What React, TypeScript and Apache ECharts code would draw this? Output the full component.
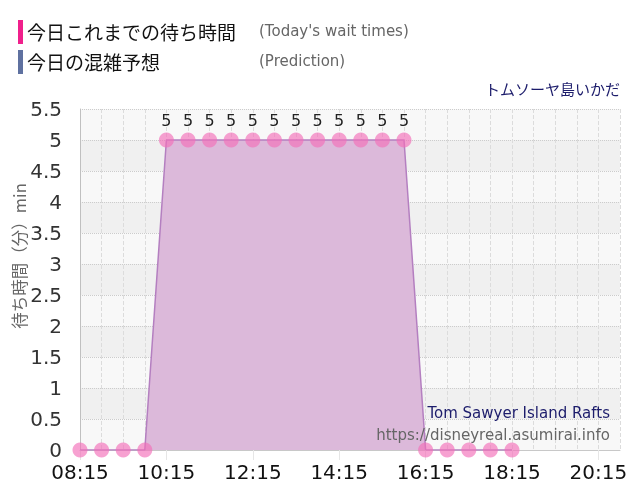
import React, { useEffect, useRef } from "react";
import * as echarts from "echarts";

const times = [
  "08:15", "08:45", "09:15", "09:45", "10:15", "10:45", "11:15", "11:45",
  "12:15", "12:45", "13:15", "13:45", "14:15", "14:45", "15:15", "15:45",
  "16:15", "16:45", "17:15", "17:45", "18:15", "18:45", "19:15", "19:45",
  "20:15", "20:45",
];
const waitTimes: (number | null)[] = [
  0, 0, 0, 0, 5, 5, 5, 5, 5, 5, 5, 5, 5, 5, 5, 5,
  0, 0, 0, 0, 0, null, null, null, null, null,
];
const yTicks = { min: 0, max: 5.5, interval: 0.5 };
const legendJa = ["今日これまでの待ち時間", "今日の混雑予想"];
const legendEn = ["(Today's wait times)", "(Prediction)"];
const legendColors = ["#f0208c", "#5f71a0"];
const titleJa = "トムソーヤ島いかだ";
const titleEn = "Tom Sawyer Island Rafts";
const siteUrl = "https://disneyreal.asumirai.info";
const yName = "待ち時間（分）min";

const LATIN = "DejaVu Sans, Verdana, sans-serif";
const JA = "Noto Sans CJK JP, sans-serif";

export default function App() {
  const ref = useRef<HTMLDivElement>(null);
  useEffect(() => {
    if (!ref.current) return;
    const chart = echarts.init(ref.current, null, { renderer: "svg" });
    const graphics: any[] = [];
    legendJa.forEach((t, i) => {
      const y = 20 + i * 30;
      graphics.push({
        type: "rect",
        left: 18,
        top: y,
        z: 100,
        shape: { width: 5, height: 24 },
        style: { fill: legendColors[i] },
      });
      graphics.push({
        type: "text",
        left: 27,
        top: y + 2,
        z: 100,
        style: { text: t, font: `19px ${JA}`, fill: "#111" },
      });
      graphics.push({
        type: "text",
        left: 259,
        top: y + 3,
        z: 100,
        style: { text: legendEn[i], font: `15px ${LATIN}`, fill: "#666" },
      });
    });
    graphics.push({
      type: "text",
      right: 20,
      top: 81,
      z: 100,
      style: { text: titleJa, font: `15px ${JA}`, fill: "#1c1c6b" },
    });
    graphics.push({
      type: "text",
      right: 30,
      top: 405,
      z: 100,
      style: { text: titleEn, font: `15px ${LATIN}`, fill: "#1c1c6b" },
    });
    graphics.push({
      type: "text",
      right: 30,
      top: 427,
      z: 100,
      style: { text: siteUrl, font: `15px ${LATIN}`, fill: "#666" },
    });
    graphics.push({
      type: "text",
      x: 19,
      y: 256,
      z: 100,
      rotation: Math.PI / 2,
      style: {
        text: yName,
        font: `16.5px ${JA}`,
        fill: "#666",
        align: "center",
        verticalAlign: "middle",
      },
    });

    chart.setOption({
      animation: false,
      grid: { left: 80, right: 20, top: 109, bottom: 50, containLabel: false },
      xAxis: {
        type: "category",
        data: times,
        boundaryGap: false,
        axisLine: { show: true, lineStyle: { color: "#c8c8c8" } },
        axisTick: {
          show: true,
          interval: 3,
          length: 10,
          lineStyle: { color: "#e6e6e6" },
        },
        axisLabel: {
          interval: 3,
          fontSize: 20,
          fontFamily: LATIN,
          color: "#111",
          margin: 12,
        },
        splitLine: {
          show: true,
          interval: 0,
          lineStyle: { color: "#dcdcdc", type: "dashed" },
        },
      },
      yAxis: {
        type: "value",
        min: yTicks.min,
        max: yTicks.max,
        interval: yTicks.interval,
        axisLine: { show: true, lineStyle: { color: "#c0c0c0" } },
        axisTick: { show: false },
        axisLabel: {
          fontSize: 20,
          fontFamily: LATIN,
          color: "#333",
          margin: 18,
        },
        splitLine: {
          show: true,
          lineStyle: { color: "#cccccc", type: "dotted" },
        },
        splitArea: {
          show: true,
          areaStyle: { color: ["#f8f8f8", "#f0f0f0"] },
        },
      },
      graphic: graphics,
      series: [
        {
          type: "line",
          data: waitTimes,
          showAllSymbol: true,
          symbol: "circle",
          symbolSize: 15,
          itemStyle: { color: "rgba(242, 110, 185, 0.65)" },
          lineStyle: { color: "#b47fc0", width: 1.5 },
          areaStyle: { color: "#dcb9da", opacity: 1 },
          label: {
            show: true,
            position: "top",
            distance: 4,
            fontSize: 16,
            fontFamily: LATIN,
            color: "#222",
            formatter: (p: any) => (p.value ? String(p.value) : ""),
          },
          labelLayout: { hideOverlap: false },
          z: 3,
        },
      ],
    });
    return () => chart.dispose();
  }, []);
  return (
    <div
      ref={ref}
      style={{ position: "fixed", left: 0, top: 0, width: 640, height: 500 }}
    />
  );
}
